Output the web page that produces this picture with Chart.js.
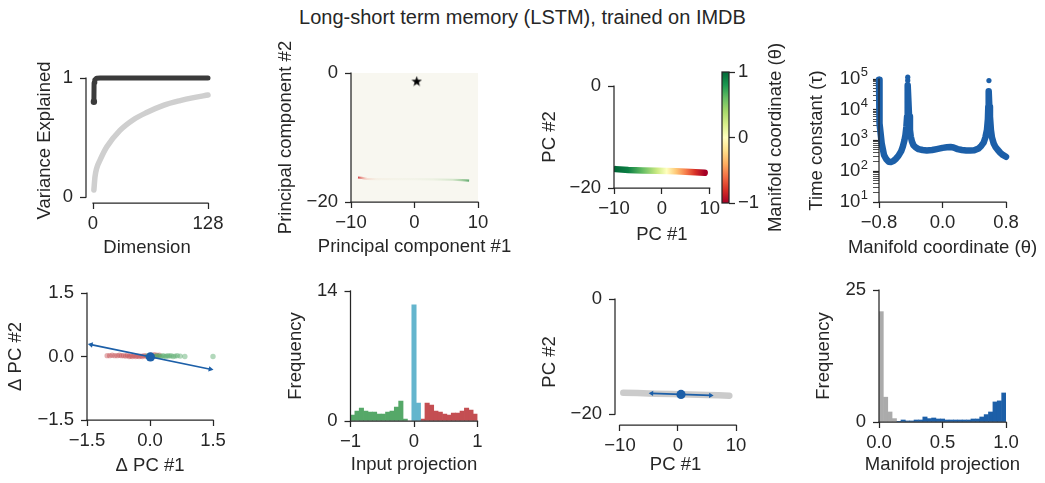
<!DOCTYPE html>
<html>
<head>
<meta charset="utf-8">
<script src="https://cdn.jsdelivr.net/npm/chart.js@4.4.1/dist/chart.umd.min.js"></script>
<style>
html, body { margin:0; padding:0; background:#ffffff; }
body { width:1045px; height:483px; position:relative; overflow:hidden; font-family:"Liberation Sans", Arial, Helvetica, sans-serif; }
#title { position:absolute; left:0; top:5px; width:1045px; text-align:center; font-size:20px; line-height:24px; color:#262626; white-space:nowrap; }
canvas { position:absolute; }
</style>
</head>
<body>
<div id="title">Long-short term memory (LSTM), trained on IMDB</div>
<script>
// ================= DATA =================
// Panel A: variance explained vs dimension
const dimsActivity = [1, 2.2, 4, 7.8, 15.2, 30, 44.9, 59.7, 78.3, 97, 112, 128];
const varExplainedActivity = [0.06, 0.17, 0.24, 0.31, 0.42, 0.56, 0.65, 0.71, 0.77, 0.81, 0.835, 0.857];
const dimsFixedPoints = [1, 1.2, 2, 4, 8, 128];
const varExplainedFixedPoints = [0.80, 0.96, 0.985, 0.998, 1.0, 1.0];
const varXTicks = [0, 128];
const varYTicks = [0, 1];

// Panel B: fixed points in PC space
const pcXTicks = [-10, 0, 10];
const pcYTicks = [-20, 0];
const fpLineX = [-8.9, -8.3, -7.5, -6, -3, 0, 3, 6, 7.5, 8.6];
const fpLineY = [-16.2, -16.25, -16.4, -16.45, -16.45, -16.45, -16.5, -16.55, -16.6, -16.7];
const initStateX = [0.35];
const initStateY = [-1.25];

// Panel C: manifold coloured by coordinate
const manifoldX = [-9.66, -7, -4, -1, 1, 3, 5, 7, 8.95];
const manifoldY = [-16.3, -16.45, -16.55, -16.62, -16.66, -16.72, -16.8, -16.9, -17.0];
const manifoldTheta = [1, 0.9, 0.6, 0.25, 0, -0.3, -0.55, -0.8, -1];
const colorbarTicks = [-1, 0, 1];

// Panel D: time constants along manifold
const tauTheta = [-0.8, -0.797, -0.79, -0.766, -0.737, -0.71, -0.68, -0.65, -0.619, -0.59, -0.556, -0.52, -0.50, -0.48, -0.467, -0.455, -0.446, -0.44, -0.437,
  -0.43, -0.421, -0.41, -0.40, -0.385, -0.366, -0.34, -0.303, -0.25, -0.198, -0.13, -0.072, 0.0, 0.055, 0.1, 0.139, 0.19, 0.244, 0.3, 0.35, 0.4, 0.455, 0.49,
  0.518, 0.54, 0.56, 0.572, 0.577, 0.582, 0.59, 0.598, 0.61, 0.623, 0.645, 0.665, 0.695, 0.728, 0.76, 0.8];
const tauValue = [95000, 21000, 3600, 810, 340, 250, 205, 200, 215, 250, 315, 450, 630, 1000, 1500, 2800, 6000, 20000, 63000,
  20000, 6000, 2200, 1350, 930, 700, 600, 525, 490, 470, 490, 525, 575, 600, 615, 590, 525, 490, 470, 470, 480, 550, 680,
  850, 1260, 2200, 5000, 12600, 40000, 12600, 6000, 2200, 1260, 800, 630, 500, 400, 340, 295];
const tauPeakTheta = [-0.438, -0.438, -0.438, -0.438, 0.585, 0.585];
const tauPeakValue = [90000, 115000, 140000, 175000, 89000, 145000];
const thetaTicks = [-0.8, 0, 0.8];
const tauDecades = [10, 100, 1000, 10000, 100000];

// Panel E: input response (Δ PC)
const dTicks = [-1.5, 0, 1.5];
const negInputDX = [-1.02, -0.96, -0.9, -0.84, -0.78, -0.73, -0.68, -0.63, -0.58, -0.54, -0.5, -0.46, -0.42, -0.38, -0.34, -0.3, -0.26, -0.22, -0.18, -0.14, -0.1, -0.06, -0.02, 0.02, 0.06, 0.1, 0.16, 0.22];
const negInputDY = [0.02, 0.02, 0.03, 0.02, 0.02, 0.03, 0.02, 0.02, 0.01, 0.03, 0.0, 0.01, 0.0, 0.02, 0.0, 0.01, 0.0, 0.01, 0.0, 0.02, 0.01, 0.0, 0.02, 0.03, 0.02, 0.04, 0.03, 0.03];
const posInputDX = [-0.06, 0.0, 0.05, 0.1, 0.14, 0.18, 0.22, 0.26, 0.3, 0.34, 0.38, 0.42, 0.46, 0.5, 0.55, 0.6, 0.65, 0.72, 0.83, 1.5];
const posInputDY = [0.02, 0.01, 0.02, 0.0, 0.01, 0.02, 0.01, 0.0, 0.02, 0.01, 0.0, 0.02, 0.01, 0.02, 0.0, 0.01, 0.02, 0.01, 0.0, 0.0];
const manifoldDirX = [-1.405, 1.437];
const manifoldDirY = [0.28, -0.30];
const originDX = [0.01];
const originDY = [-0.01];

// Panel F: input projection histogram (29 bins on [-1, 1])
const inputBinCenters = [-0.966, -0.897, -0.828, -0.759, -0.690, -0.621, -0.552, -0.483, -0.414, -0.345, -0.276, -0.207, -0.138, -0.069,
  0.0, 0.069, 0.138, 0.207, 0.276, 0.345, 0.414, 0.483, 0.552, 0.621, 0.690, 0.759, 0.828, 0.897, 0.966];
const inputNegCounts = [0.65, 1.08, 1.4, 1.08, 0.97, 0.97, 0.75, 0.75, 0.97, 1.08, 1.5, 2.15, 0.22, null,
  null, null, null, null, null, null, null, null, null, null, null, null, null, null, null];
const inputNeutralCounts = [null, null, null, null, null, null, null, null, null, null, null, null, null, null,
  12.5, 1.94, null, null, null, null, null, null, null, null, null, null, null, null, null];
const inputPosCounts = [null, null, null, null, null, null, null, null, null, null, null, null, null, null,
  null, null, 0.22, 1.94, 1.72, 1.08, 0.97, 0.75, 0.65, 0.86, 0.86, 1.08, 1.4, 1.18, 0.75];
const inputXTicks = [-1, 0, 1];
const inputYTicks = [0, 14];

// Panel G: linearisation at a fixed point
const manifoldGrayX = [-9.43, -7, -4, -1, 2, 5, 7, 8.85];
const manifoldGrayY = [-16.3, -16.35, -16.45, -16.5, -16.6, -16.7, -16.75, -16.8];
const fpArrowX = [-4.54, 5.63];
const fpArrowY = [-16.4, -16.75];
const fpX = [0.52];
const fpY = [-16.58];

// Panel H: manifold projection histogram (29 bins on [0, 1])
const projBinCenters = [0.017, 0.052, 0.086, 0.121, 0.155, 0.190, 0.224, 0.259, 0.293, 0.328, 0.362, 0.397, 0.431, 0.466, 0.500,
  0.534, 0.569, 0.603, 0.638, 0.672, 0.707, 0.741, 0.776, 0.810, 0.845, 0.879, 0.914, 0.948, 0.983];
const projOtherCounts = [20.9, 4.7, 1.9, 0.64, null, null, null, null, null, null, null, null, null, null, null,
  null, null, null, null, null, null, null, null, null, null, null, null, null, null];
const projTopCounts = [null, null, null, null, 0.13, 0.38, 0.2, 0.2, 0.38, 0.38, 0.95, 0.64, 0.76, 0.57, 0.57,
  0.38, 0.38, 0.38, 0.38, 0.38, 0.38, 0.57, 0.57, 0.95, 1.4, 1.9, 3.8, 4.0, 5.5];
const projXTicks = [0, 0.5, 1];
const projYTicks = [0, 25];

// ================= STYLE / HELPERS =================
const FS = 18.5, LH = FS * 1.2;
const FAMILY = '"Liberation Sans", Arial, Helvetica, sans-serif';
const INK = '#262626';
const BLUE = '#1c5fa8';
const RDYLGN = ['#a50026','#d73027','#f46d43','#fdae61','#fee08b','#ffffbf','#d9ef8b','#a6d96a','#66bd63','#1a9850','#006837'];

Chart.defaults.font.family = FAMILY;
Chart.defaults.font.size = FS;
Chart.defaults.color = INK;
Chart.defaults.animation = false;
Chart.defaults.events = [];
Chart.defaults.plugins.legend.display = false;
Chart.defaults.plugins.tooltip.enabled = false;

function hexToRgb(h) { return [parseInt(h.slice(1,3),16), parseInt(h.slice(3,5),16), parseInt(h.slice(5,7),16)]; }
function cmap(t) {
  const p = Math.max(0, Math.min(10, (t + 1) / 2 * 10));
  const i = Math.min(9, Math.floor(p)), f = p - i;
  const a = hexToRgb(RDYLGN[i]), b = hexToRgb(RDYLGN[i+1]);
  return 'rgb(' + a.map((v,k) => Math.round(v + (b[k]-v)*f)).join(',') + ')';
}
const zip = (xs, ys) => xs.map((x, i) => ({x: x, y: ys[i]})).filter(p => p.y !== null);
function fmtNum(v, d) { return (d ? v.toFixed(d) : String(Math.round(v))).replace('-', '\u2212'); }

function linAxis(pos, min, max, ticks, digits) {
  return {
    type: 'linear', position: pos, min: min, max: max, offset: false,
    afterBuildTicks: s => { s.ticks = ticks.map(v => ({value: v})); },
    ticks: { autoSkip: false, maxRotation: 0, minRotation: 0, padding: pos === 'bottom' ? 4 : 7, color: INK,
             font: {size: FS}, callback: v => fmtNum(v, digits) },
    grid: { offset: false, drawOnChartArea: false, drawTicks: true, tickLength: 6, tickColor: INK, tickWidth: 1.25 },
    border: { display: false },
    title: { display: false }
  };
}

const spinesPlugin = {
  id: 'spines',
  afterDatasetsDraw(chart, args, o) {
    const a = chart.chartArea, ctx = chart.ctx;
    ctx.save(); ctx.strokeStyle = INK; ctx.lineWidth = 1.25;
    if (o.box) ctx.strokeRect(a.left, a.top, a.right - a.left, a.bottom - a.top);
    if (o.x) { const s = chart.scales.x; ctx.beginPath(); ctx.moveTo(s.getPixelForValue(o.x[0]) - 0.6, a.bottom); ctx.lineTo(s.getPixelForValue(o.x[1]) + 0.6, a.bottom); ctx.stroke(); }
    if (o.y) { const s = chart.scales.y; ctx.beginPath(); ctx.moveTo(a.left, s.getPixelForValue(o.y[0]) + 0.6); ctx.lineTo(a.left, s.getPixelForValue(o.y[1]) - 0.6); ctx.stroke(); }
    ctx.restore();
  }
};
const areaFillPlugin = {
  id: 'areaFill',
  beforeDatasetsDraw(chart, args, o) {
    if (!o.color) return;
    const a = chart.chartArea, ctx = chart.ctx;
    ctx.save(); ctx.fillStyle = o.color; ctx.fillRect(a.left, a.top, a.right - a.left, a.bottom - a.top); ctx.restore();
  }
};
// axis titles (drawn without width limit); y title rotated, centred on the chart area
const axisTitlesPlugin = {
  id: 'axisTitles',
  afterDraw(chart, args, o) {
    const a = chart.chartArea, ctx = chart.ctx;
    ctx.save(); ctx.font = FS + 'px ' + FAMILY; ctx.fillStyle = INK; ctx.textAlign = 'center'; ctx.textBaseline = 'middle';
    if (o.xText) ctx.fillText(o.xText, (a.left + a.right) / 2, o.xY);
    if (o.yText) {
      const cy = o.yCenter != null ? o.yCenter : (a.top + a.bottom) / 2;
      ctx.translate(o.yX, cy); ctx.rotate(-Math.PI / 2); ctx.fillText(o.yText, 0, 0);
    }
    ctx.restore();
  }
};
// "10^n" labels for a log axis
const logLabelsPlugin = {
  id: 'logLabels',
  afterDraw(chart, args, o) {
    if (!o.values) return;
    const s = chart.scales.y, ctx = chart.ctx, xr = chart.chartArea.left - 6 - 5;
    ctx.save(); ctx.fillStyle = INK; ctx.textBaseline = 'middle'; ctx.textAlign = 'right';
    o.values.forEach(v => {
      const y = s.getPixelForValue(v), e = String(Math.round(Math.log10(v)));
      ctx.font = (FS * 0.7) + 'px ' + FAMILY;
      const we = ctx.measureText(e).width;
      ctx.fillText(e, xr, y - FS * 0.33);
      ctx.font = FS + 'px ' + FAMILY;
      ctx.fillText('10', xr - we - 0.5, y);
    });
    ctx.restore();
  }
};
Chart.register(spinesPlugin, areaFillPlugin, axisTitlesPlugin, logLabelsPlugin);

function addCanvas(left, top, width, height) {
  const c = document.createElement('canvas');
  c.width = width; c.height = height;
  c.style.left = left + 'px'; c.style.top = top + 'px';
  c.style.width = width + 'px'; c.style.height = height + 'px';
  document.body.appendChild(c);
  return c;
}

// Place a panel so that its chart area is exactly (l,t)-(r,b) on the page.
function panel(p, config) {
  const padTop = p.padTop != null ? p.padTop : 50;
  const padRight = p.padRight != null ? p.padRight : 45;
  const left = Math.floor(p.yTitleX - LH / 2);
  const top = Math.max(0, Math.floor(p.t - padTop));
  const right = Math.ceil(p.r + padRight);
  const bottom = Math.ceil(p.xTitleY + LH / 2 + 2);
  const c = addCanvas(left, top, right - left, bottom - top);
  const yW = p.l - left, xH = bottom - p.b;
  const o = config.options;
  o.responsive = false; o.maintainAspectRatio = false;
  o.layout = { padding: { top: p.t - top, right: right - p.r, left: 0, bottom: 0 } };
  o.scales.x.afterFit = s => { s.height = xH; };
  o.scales.y.afterFit = s => { s.width = yW; };
  o.plugins = o.plugins || {};
  o.plugins.axisTitles = { xText: p.xTitle, xY: p.xTitleY - top, yText: p.yTitle, yX: p.yTitleX - left };
  return new Chart(c, config);
}

function gradientAlongX(xsVals, colors) {
  return ctx => {
    const ch = ctx.chart, s = ch.scales.x;
    if (!s || !ch.chartArea) return colors[0];
    const x0 = s.getPixelForValue(xsVals[0]), x1 = s.getPixelForValue(xsVals[xsVals.length - 1]);
    const g = ch.ctx.createLinearGradient(x0, 0, x1, 0);
    xsVals.forEach((v, i) => g.addColorStop(Math.max(0, Math.min(1, (s.getPixelForValue(v) - x0) / (x1 - x0))), colors[i]));
    return g;
  };
}
function arrowRotation(ctx) {
  const ch = ctx.chart, d = ctx.dataset.data, xs = ch.scales.x, ys = ch.scales.y;
  const a = d[0], b = d[d.length - 1];
  const ang = Math.atan2(ys.getPixelForValue(b.y) - ys.getPixelForValue(a.y), xs.getPixelForValue(b.x) - xs.getPixelForValue(a.x)) * 180 / Math.PI;
  return ctx.dataIndex === 0 ? ang - 90 : ang + 90;
}
function starImage(size, color) {
  const c = document.createElement('canvas'); c.width = c.height = size;
  const g = c.getContext('2d'); g.fillStyle = color; g.beginPath();
  for (let i = 0; i < 10; i++) {
    const r = i % 2 ? size * 0.2 : size * 0.5, a = -Math.PI / 2 + i * Math.PI / 5;
    g.lineTo(size / 2 + r * Math.cos(a), size / 2 + r * Math.sin(a) + size * 0.05);
  }
  g.closePath(); g.fill(); return c;
}

// ================= PANEL A =================
panel({l: 86, r: 208, t: 78, b: 203, yTitleX: 44.5, xTitleY: 248, xTitle: 'Dimension', yTitle: 'Variance Explained'}, {
  type: 'scatter',
  data: { datasets: [
    { data: zip(dimsFixedPoints, varExplainedFixedPoints), showLine: true, borderColor: '#3b3b3b', borderWidth: 5,
      pointRadius: c => c.dataIndex === 0 ? 3.2 : 0, pointBackgroundColor: '#3b3b3b', pointBorderWidth: 0,
      clip: false, borderCapStyle: 'round', borderJoinStyle: 'round' },
    { data: zip(dimsActivity, varExplainedActivity), showLine: true, borderColor: '#cfcfcf', borderWidth: 5.5,
      pointRadius: 0, cubicInterpolationMode: 'monotone', clip: false, borderCapStyle: 'round' }
  ]},
  options: {
    scales: { x: linAxis('bottom', -7.8, 128, varXTicks, 0), y: linAxis('left', -0.05, 1, varYTicks, 0) },
    plugins: { spines: { x: [0, 128], y: [0, 1] } }
  }
});

// ================= PANEL B =================
panel({l: 351, r: 478, t: 73, b: 202, yTitleX: 286, xTitleY: 247, xTitle: 'Principal component #1', yTitle: 'Principal component #2'}, {
  type: 'scatter',
  data: { datasets: [
    { data: zip(initStateX, initStateY), pointStyle: starImage(11, '#000000') },
    { data: zip(fpLineX, fpLineY), showLine: true, borderWidth: 2.2, pointRadius: 0,
      borderColor: gradientAlongX(fpLineX, ['rgba(200,30,40,0.85)','rgba(225,90,80,0.55)','rgba(240,170,150,0.35)','rgba(240,225,205,0.3)',
        'rgba(235,235,215,0.3)','rgba(230,235,215,0.3)','rgba(215,230,200,0.35)','rgba(170,210,160,0.45)','rgba(110,180,110,0.6)','rgba(60,150,80,0.8)']) }
  ]},
  options: {
    scales: { x: linAxis('bottom', -10, 10, pcXTicks, 0), y: linAxis('left', -20, 0, pcYTicks, 0) },
    plugins: { spines: { x: [-10, 10], y: [-20, 0] }, areaFill: { color: '#f8f7f0' } }
  }
});

// ================= PANEL C =================
panel({l: 614, r: 716, t: 86, b: 188, yTitleX: 550, xTitleY: 235, padRight: 8, xTitle: 'PC #1', yTitle: 'PC #2'}, {
  type: 'scatter',
  data: { datasets: [
    { data: zip(manifoldX, manifoldY), showLine: true, borderWidth: 6.5, pointRadius: 0, borderCapStyle: 'round',
      borderColor: gradientAlongX(manifoldX, manifoldTheta.map(cmap)) }
  ]},
  options: {
    scales: { x: linAxis('bottom', -10, 10, pcXTicks, 0), y: linAxis('left', -20, 0, pcYTicks, 0) },
    plugins: { spines: { x: [-10, 10], y: [-20, 0] } }
  }
});

// Colorbar
(function () {
  const left = 712, top = 20, width = 92, height = 230;
  const c = addCanvas(left, top, width, height);
  const chartRight = 729 - left;
  new Chart(c, {
    type: 'bar',
    data: { labels: ['θ'], datasets: [{
      data: [[colorbarTicks[0], colorbarTicks[colorbarTicks.length - 1]]], barPercentage: 1, categoryPercentage: 1, borderWidth: 0,
      backgroundColor: ctx => {
        const ch = ctx.chart, s = ch.scales.y;
        if (!s || !ch.chartArea) return RDYLGN[5];
        const g = ch.ctx.createLinearGradient(0, s.getPixelForValue(-1), 0, s.getPixelForValue(1));
        RDYLGN.forEach((col, i) => g.addColorStop(i / 10, col));
        return g;
      }
    }]},
    options: {
      responsive: false, maintainAspectRatio: false,
      layout: { padding: { left: 722 - left, top: 72 - top, bottom: top + height - 203, right: 0 } },
      scales: {
        x: { type: 'category', display: false },
        y: { type: 'linear', position: 'right', min: -1, max: 1,
             afterBuildTicks: s => { s.ticks = colorbarTicks.map(v => ({value: v})); },
             afterFit: s => { s.width = width - chartRight; },
             ticks: { padding: 3, color: INK, font: {size: FS}, callback: v => fmtNum(v, 0) },
             grid: { drawOnChartArea: false, drawTicks: true, tickLength: 6, tickColor: INK, tickWidth: 1.25 },
             border: { display: false } }
      },
      plugins: { spines: { box: true }, axisTitles: { yText: 'Manifold coordinate (θ)', yX: 776 - left } }
    }
  });
})();

// ================= PANEL D =================
const tauAllTicks = [];
tauDecades.forEach((d, i) => { tauAllTicks.push(d); if (i < tauDecades.length - 1) for (let k = 2; k <= 9; k++) tauAllTicks.push(d * k); });
const logY = {
  type: 'logarithmic', position: 'left', min: tauDecades[0], max: tauDecades[tauDecades.length - 1],
  afterBuildTicks: s => { s.ticks = tauAllTicks.map(v => ({value: v, major: tauDecades.includes(v)})); },
  ticks: { autoSkip: false, padding: 7, color: INK, font: {size: FS}, callback: () => '' },
  grid: { drawOnChartArea: false, drawTicks: true, tickLength: 6, tickColor: INK,
          tickWidth: c => (c.tick && c.tick.major) ? 1.25 : 0.8 },
  border: { display: false },
  title: { display: false }
};
panel({l: 879, r: 1006, t: 79, b: 202, yTitleX: 817, xTitleY: 248, xTitle: 'Manifold coordinate (θ)', yTitle: 'Time constant (τ)'}, {
  type: 'scatter',
  data: { datasets: [
    { data: zip(tauPeakTheta, tauPeakValue), pointRadius: 2.6, pointBackgroundColor: BLUE, pointBorderWidth: 0, clip: false },
    { data: zip(tauTheta, tauValue), showLine: true, borderColor: BLUE, borderWidth: 6.5, pointRadius: 0, clip: false,
      borderJoinStyle: 'round', borderCapStyle: 'round' }
  ]},
  options: {
    scales: { x: linAxis('bottom', -0.8, 0.8, thetaTicks, 1), y: logY },
    plugins: { spines: { x: [-0.8, 0.8], y: [10, 100000] }, logLabels: { values: tauDecades } }
  }
});

// ================= PANEL E =================
panel({l: 87, r: 213, t: 293, b: 420, yTitleX: 15.5, xTitleY: 466, xTitle: 'Δ PC #1', yTitle: 'Δ PC #2'}, {
  type: 'scatter',
  data: { datasets: [
    { data: zip(originDX, originDY), pointRadius: 4.6, pointBackgroundColor: BLUE, pointBorderWidth: 0 },
    { data: zip(manifoldDirX, manifoldDirY), showLine: true, borderColor: BLUE, borderWidth: 1.6, pointStyle: 'triangle',
      pointRadius: 3.2, pointRotation: arrowRotation, pointBackgroundColor: BLUE, pointBorderWidth: 0, clip: false },
    { data: zip(posInputDX, posInputDY), pointRadius: 2.7, pointBackgroundColor: 'rgba(85,168,104,0.45)', pointBorderWidth: 0, clip: false },
    { data: zip(negInputDX, negInputDY), pointRadius: 2.7, pointBackgroundColor: 'rgba(196,78,82,0.45)', pointBorderWidth: 0, clip: false }
  ]},
  options: {
    scales: { x: linAxis('bottom', -1.5, 1.5, dTicks, 1), y: linAxis('left', -1.5, 1.5, dTicks, 1) },
    plugins: { spines: { x: [-1.5, 1.5], y: [-1.5, 1.5] } }
  }
});

// ================= PANEL F =================
panel({l: 350.5, r: 477.5, t: 291, b: 421, yTitleX: 296, xTitleY: 465, xTitle: 'Input projection', yTitle: 'Frequency'}, {
  type: 'bar',
  data: { datasets: [
    { data: zip(inputBinCenters, inputNeutralCounts), backgroundColor: '#64b5cd' },
    { data: zip(inputBinCenters, inputNegCounts), backgroundColor: '#55a868' },
    { data: zip(inputBinCenters, inputPosCounts), backgroundColor: '#c44e52' }
  ]},
  options: {
    datasets: { bar: { grouped: false, barPercentage: 1, categoryPercentage: 1, borderWidth: 0 } },
    scales: { x: linAxis('bottom', -1, 1, inputXTicks, 0), y: linAxis('left', 0, 14, inputYTicks, 0) },
    plugins: { spines: { x: [-1, 1], y: [0, 14] } }
  }
});

// ================= PANEL G =================
panel({l: 615, r: 736, t: 299, b: 425, yTitleX: 550, xTitleY: 465, xTitle: 'PC #1', yTitle: 'PC #2'}, {
  type: 'scatter',
  data: { datasets: [
    { data: zip(fpX, fpY), pointRadius: 4.6, pointBackgroundColor: BLUE, pointBorderWidth: 0 },
    { data: zip(fpArrowX, fpArrowY), showLine: true, borderColor: BLUE, borderWidth: 1.6, pointStyle: 'triangle',
      pointRadius: 3.0, pointRotation: arrowRotation, pointBackgroundColor: BLUE, pointBorderWidth: 0 },
    { data: zip(manifoldGrayX, manifoldGrayY), showLine: true, borderColor: '#cbcbcb', borderWidth: 6.5, pointRadius: 0,
      borderCapStyle: 'round' }
  ]},
  options: {
    scales: { x: linAxis('bottom', -10.86, 10, pcXTicks, 0), y: linAxis('left', -21.9, 0, pcYTicks, 0) },
    plugins: { spines: { x: [-10, 10], y: [-20, 0] } }
  }
});

// ================= PANEL H =================
panel({l: 879, r: 1006, t: 290, b: 422, yTitleX: 824, xTitleY: 465, xTitle: 'Manifold projection', yTitle: 'Frequency'}, {
  type: 'bar',
  data: { datasets: [
    { data: zip(projBinCenters, projOtherCounts), backgroundColor: '#ababab' },
    { data: zip(projBinCenters, projTopCounts), backgroundColor: BLUE }
  ]},
  options: {
    datasets: { bar: { grouped: false, barPercentage: 1, categoryPercentage: 1, borderWidth: 0 } },
    scales: { x: linAxis('bottom', 0, 1, projXTicks, 1), y: linAxis('left', 0, 25, projYTicks, 0) },
    plugins: { spines: { x: [0, 1], y: [0, 25] } }
  }
});
</script>
</body>
</html>
